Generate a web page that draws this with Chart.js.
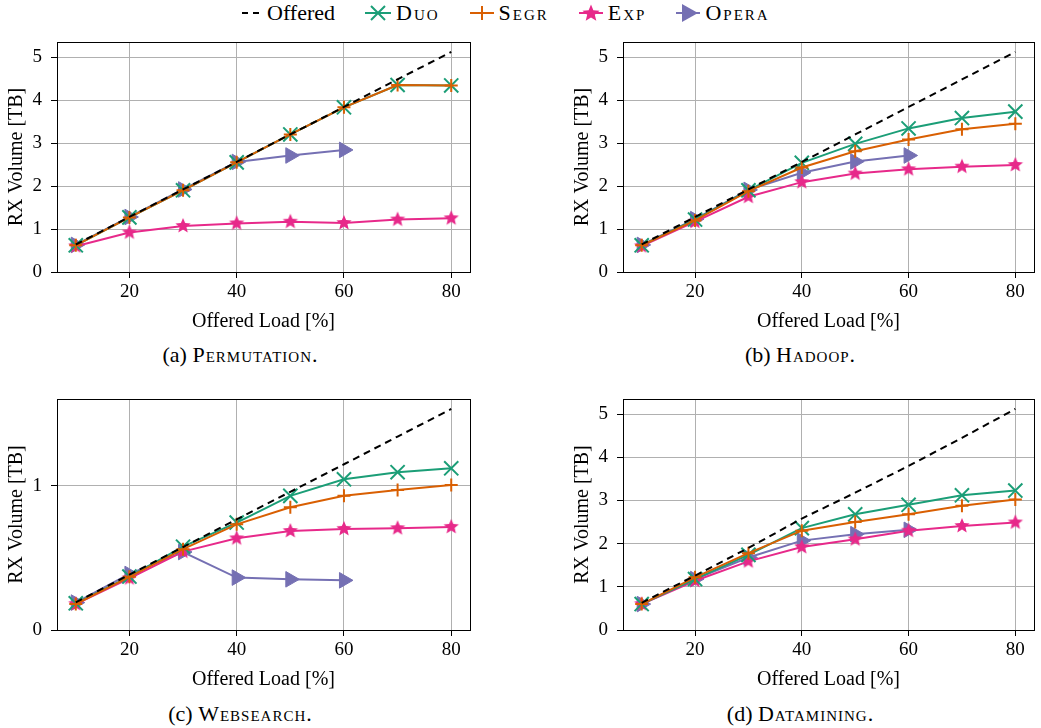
<!DOCTYPE html>
<html>
<head>
<meta charset="utf-8">
<script src="https://cdn.jsdelivr.net/npm/chart.js@4"></script>
<style>
  body { margin: 0; width: 1041px; height: 728px; background: #fff; position: relative; overflow: hidden;
         font-family: "Liberation Serif", "DejaVu Serif", serif; color: #000; }
  canvas { position: absolute; }
  .cap { position: absolute; width: 480px; text-align: center; font-size: 22px; line-height: 24px; }
  .cap .sc { letter-spacing: 1px; }
  .sc { font-variant: small-caps; }
  #legend { position: absolute; top: 1px; left: 242px; height: 24px; display: flex;
            align-items: center; gap: 30px; font-size: 22px; line-height: 24px; }
  #legend .sc { letter-spacing: 2px; }
  #legend span.item { display: flex; align-items: center; gap: 5px; }
  #legend svg { display: block; }
</style>
</head>
<body>
<div id="legend">
  <span class="item"><svg width="20" height="24"><line x1="0" y1="12" x2="20" y2="12" stroke="#000" stroke-width="2" stroke-dasharray="6,5"/></svg>Offered</span>
  <span class="item"><svg width="26" height="24"><line x1="0" y1="12" x2="26" y2="12" stroke="#1b9e77" stroke-width="2"/><path d="M6 5 L20 19 M20 5 L6 19" stroke="#1b9e77" stroke-width="2"/></svg><span class="sc">Duo</span></span>
  <span class="item"><svg width="24" height="24"><line x1="0" y1="12" x2="24" y2="12" stroke="#d95f02" stroke-width="2"/><path d="M12 5 L12 19" stroke="#d95f02" stroke-width="2"/></svg><span class="sc">Segr</span></span>
  <span class="item"><svg width="24" height="24"><line x1="0" y1="12" x2="24" y2="12" stroke="#e7298a" stroke-width="2"/><polygon id="legstar" fill="#e7298a"/></svg><span class="sc">Exp</span></span>
  <span class="item"><svg width="24" height="24"><line x1="0" y1="12" x2="24" y2="12" stroke="#7570b3" stroke-width="2"/><polygon points="6,3 22,12 6,21" fill="#7570b3"/></svg><span class="sc">Opera</span></span>
</div>

<canvas id="chartA" width="480" height="298" style="left:0;top:36px"></canvas>
<canvas id="chartB" width="478" height="298" style="left:566px;top:36px"></canvas>
<canvas id="chartC" width="480" height="299" style="left:0;top:393px"></canvas>
<canvas id="chartD" width="478" height="299" style="left:566px;top:393px"></canvas>

<div class="cap" style="left:0;top:343px">(a) <span class="sc">Permutation</span>.</div>
<div class="cap" style="left:560px;top:343px">(b) <span class="sc">Hadoop</span>.</div>
<div class="cap" style="left:0;top:702px">(c) <span class="sc">Websearch</span>.</div>
<div class="cap" style="left:560px;top:702px">(d) <span class="sc">Datamining</span>.</div>

<script>
// offered load [%]
const loads = [10, 20, 30, 40, 50, 60, 70, 80];
const operaLoads = [10, 20, 30, 40, 50, 60];

// (a) Permutation
const permOffered = [0.64, 1.28, 1.92, 2.56, 3.20, 3.84, 4.48, 5.12];
const permDuo     = [0.62, 1.27, 1.90, 2.55, 3.20, 3.83, 4.35, 4.34];
const permSegr    = [0.62, 1.27, 1.90, 2.55, 3.20, 3.83, 4.35, 4.34];
const permExp     = [0.60, 0.92, 1.07, 1.13, 1.17, 1.14, 1.22, 1.25];
const permOpera   = [0.63, 1.28, 1.92, 2.56, 2.71, 2.84];

// (b) Hadoop
const hadoopOffered = [0.64, 1.28, 1.92, 2.56, 3.20, 3.84, 4.48, 5.12];
const hadoopDuo     = [0.62, 1.22, 1.90, 2.54, 2.98, 3.34, 3.58, 3.73];
const hadoopSegr    = [0.62, 1.20, 1.88, 2.43, 2.81, 3.08, 3.32, 3.45];
const hadoopExp     = [0.60, 1.17, 1.75, 2.09, 2.29, 2.39, 2.45, 2.49];
const hadoopOpera   = [0.63, 1.23, 1.91, 2.31, 2.57, 2.71];

// (c) Websearch
const webOffered = [0.191, 0.383, 0.574, 0.766, 0.957, 1.148, 1.340, 1.531];
const webDuo     = [0.185, 0.370, 0.577, 0.744, 0.929, 1.044, 1.093, 1.120];
const webSegr    = [0.180, 0.368, 0.560, 0.732, 0.850, 0.930, 0.970, 1.005];
const webExp     = [0.180, 0.358, 0.543, 0.635, 0.686, 0.700, 0.705, 0.714];
const webOpera   = [0.190, 0.388, 0.540, 0.363, 0.351, 0.344];

// (d) Datamining
const dmOffered = [0.63, 1.26, 1.90, 2.58, 3.18, 3.80, 4.45, 5.12];
const dmDuo     = [0.60, 1.18, 1.74, 2.36, 2.68, 2.90, 3.12, 3.23];
const dmSegr    = [0.60, 1.22, 1.78, 2.30, 2.50, 2.68, 2.88, 3.02];
const dmExp     = [0.60, 1.14, 1.59, 1.92, 2.10, 2.30, 2.41, 2.49];
const dmOpera   = [0.60, 1.18, 1.68, 2.07, 2.22, 2.32];

const cGreen = "#1b9e77", cOrange = "#d95f02", cPink = "#e7298a", cPurple = "#7570b3";
const family = "'Liberation Serif', 'DejaVu Serif', serif";
const tickFont = { family, size: 19 };
const titleFont = { family, size: 20 };

// filled five-point star for the Exp markers
function starPoints(cx, cy, ro, ri) {
  const pts = [];
  for (let i = 0; i < 10; i++) {
    const r = i % 2 === 0 ? ro : ri;
    const a = -Math.PI / 2 + i * Math.PI / 5;
    pts.push([cx + r * Math.cos(a), cy + r * Math.sin(a)]);
  }
  return pts;
}
function starImage(color, r) {
  const c = document.createElement("canvas");
  c.width = c.height = 2 * r + 2;
  const ctx = c.getContext("2d");
  ctx.fillStyle = color;
  ctx.beginPath();
  starPoints(r + 1, r + 1, r, r * 0.45).forEach(([x, y], i) => i ? ctx.lineTo(x, y) : ctx.moveTo(x, y));
  ctx.closePath();
  ctx.fill();
  return c;
}
document.getElementById("legstar").setAttribute("points",
  starPoints(12, 12.5, 9, 4).map(p => p.join(",")).join(" "));
const star = starImage(cPink, 8);

const pts = (xs, ys) => xs.map((x, i) => ({ x, y: ys[i] }));

// frame around the plot area (all four spines)
const framePlugin = {
  id: "frame",
  afterDatasetsDraw(chart) {
    const a = chart.chartArea, ctx = chart.ctx;
    ctx.save();
    ctx.strokeStyle = "#000";
    ctx.lineWidth = 1;
    ctx.strokeRect(Math.round(a.left) + 0.5, Math.round(a.top) + 0.5,
                   Math.round(a.right - a.left), Math.round(a.bottom - a.top));
    ctx.restore();
  }
};

const gridOpts = { color: "#b0b0b0", lineWidth: 1, drawTicks: true, tickLength: 6, tickColor: "#000", tickWidth: 1 };

function drawPanel(id, offered, duo, segr, exp, opera, yMax) {
  new Chart(document.getElementById(id), {
    type: "line",
    data: {
      datasets: [
        { label: "Offered", data: pts(loads, offered), borderColor: "#000", borderWidth: 2,
          borderDash: [7, 5], pointRadius: 0 },
        { label: "Segr", data: pts(loads, segr), borderColor: cOrange, borderWidth: 2,
          pointStyle: "cross", pointRadius: 6.5, pointBorderWidth: 2, pointBorderColor: cOrange },
        { label: "Duo", data: pts(loads, duo), borderColor: cGreen, borderWidth: 2,
          pointStyle: "crossRot", pointRadius: 10, pointBorderWidth: 2, pointBorderColor: cGreen },
        { label: "Exp", data: pts(loads, exp), borderColor: cPink, borderWidth: 2,
          pointStyle: star },
        { label: "Opera", data: pts(operaLoads, opera), borderColor: cPurple, borderWidth: 2,
          pointStyle: "triangle", rotation: 90, pointRadius: 9, pointBackgroundColor: cPurple,
          pointBorderColor: cPurple, pointBorderWidth: 1 }
      ]
    },
    options: {
      responsive: false,
      animation: false,
      clip: false,
      layout: { autoPadding: false, padding: { top: 6, right: 10, bottom: 0, left: 0 } },
      plugins: { legend: { display: false }, tooltip: { enabled: false } },
      scales: {
        x: {
          type: "linear", min: 6.5, max: 83.5,
          grid: gridOpts,
          border: { color: "#000" },
          ticks: { stepSize: 20, includeBounds: false, padding: 3, color: "#000", font: tickFont, maxRotation: 0 },
          title: { display: true, text: "Offered Load [%]", color: "#000", font: titleFont, padding: { top: 0, bottom: 0 } },
          afterFit: s => { s.height = 62; s.paddingLeft = 0; s.paddingRight = 0; }
        },
        y: {
          min: 0, max: yMax,
          grid: gridOpts,
          border: { color: "#000" },
          ticks: { stepSize: 1, includeBounds: false, padding: 9, color: "#000", font: tickFont },
          title: { display: true, text: "RX Volume [TB]", color: "#000", font: titleFont, padding: { top: 5, bottom: 0 } },
          afterFit: s => { s.width = 57; s.paddingTop = 0; s.paddingBottom = 0; }
        }
      }
    },
    plugins: [framePlugin]
  });
}

function drawAll() {
  drawPanel("chartA", permOffered, permDuo, permSegr, permExp, permOpera, 5.35);
  drawPanel("chartB", hadoopOffered, hadoopDuo, hadoopSegr, hadoopExp, hadoopOpera, 5.35);
  drawPanel("chartC", webOffered, webDuo, webSegr, webExp, webOpera, 1.60);
  drawPanel("chartD", dmOffered, dmDuo, dmSegr, dmExp, dmOpera, 5.35);
}

document.fonts.load("19px 'Liberation Serif'").then(drawAll, drawAll);
</script>
</body>
</html>
